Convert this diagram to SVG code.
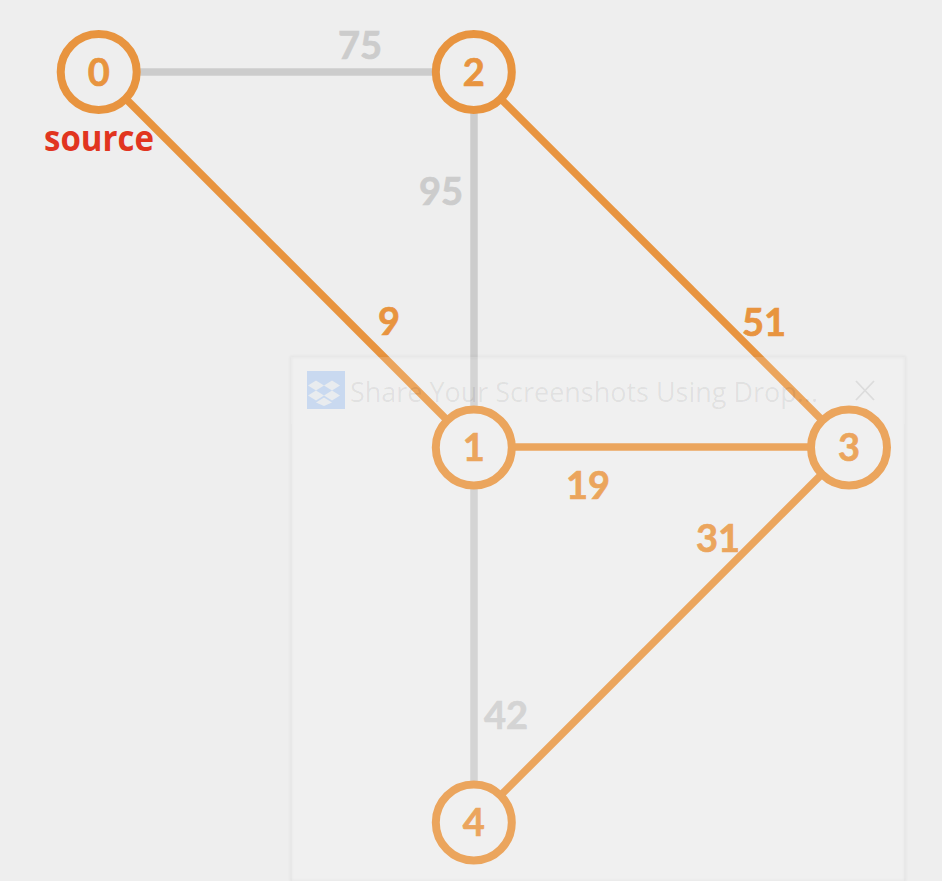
<svg xmlns="http://www.w3.org/2000/svg" width="942" height="881" viewBox="0 0 942 881">
<style>
.e{stroke-width:7.500;fill:none}
.g{stroke:#cccccc}
.o{stroke:#e8943f}
.n circle{fill:#eeeeee;stroke:#e8943f;stroke-width:8}
.n text,.l{font-family:"Lato","Liberation Sans",sans-serif;font-weight:700;font-size:38px;text-anchor:middle;stroke-width:.7px}
.n text{fill:#e8943f;stroke:#e8943f}
.lo{fill:#e8943f;stroke:#e8943f}
.lg{fill:#cccccc;stroke:#cccccc}
</style>
<defs>
<filter id="sh" x="-5%" y="-5%" width="110%" height="110%"><feGaussianBlur stdDeviation="1.500"/></filter>
</defs>
<rect width="942" height="881" fill="#eeeeee"/>
<g id="connectors">
<line class="e g" x1="99" y1="72" x2="474" y2="72"/>
<line class="e g" x1="474" y1="72" x2="474" y2="822"/>
<line class="e o" x1="99" y1="72" x2="474" y2="447"/>
<line class="e o" x1="474" y1="72" x2="849" y2="447"/>
<line class="e o" x1="474" y1="447" x2="849" y2="447"/>
<line class="e o" x1="849" y1="447" x2="474" y2="822"/>
</g>
<g id="node0" class="n"><circle cx="98.700" cy="72" r="38"/><text x="98.700" y="85.500">0</text></g>
<g id="node2" class="n"><circle cx="473.800" cy="72" r="38"/><text x="473.800" y="85.500">2</text></g>
<g id="node1" class="n"><circle cx="473.800" cy="447.500" r="38"/><text x="473.800" y="460.500">1</text></g>
<g id="node3" class="n"><circle cx="849" cy="447.500" r="38"/><text x="849" y="460.500">3</text></g>
<g id="node4" class="n"><circle cx="473.800" cy="822.500" r="38"/><text x="473.800" y="835.500">4</text></g>
<g id="labels">
<text class="l lg" x="360" y="59">75</text>
<text class="l lg" x="441" y="205">95</text>
<text class="l lo" x="389" y="335">9</text>
<text class="l lo" x="764" y="336">51</text>
<text class="l lo" x="588" y="499">19</text>
<text class="l lo" x="718" y="552">31</text>
<text class="l lg" x="506" y="729">42</text>
<text x="44" y="151" font-family="Open Sans, Liberation Sans, sans-serif" font-weight="700" font-size="35.500px" textLength="110" lengthAdjust="spacingAndGlyphs" fill="#e1351f">source</text>
</g>
<g id="window">
<path d="M291 357H905V881H291Z" fill="none" stroke="#000" stroke-width="2" opacity="0.05" filter="url(#sh)"/>
<rect x="291" y="357" width="614" height="67" fill="#ffffff" fill-opacity="0.16"/>
<rect x="292" y="424" width="612" height="457" fill="#ffffff" fill-opacity="0.16"/>
<rect x="307" y="371" width="38" height="38" fill="#c9d9f0"/>
<path d="M316 381l8 5-8 5-8-5zM332 381l8 5-8 5-8-5zM316 391l8 5-8 5-8-5zM332 391l8 5-8 5-8-5zM324 398l8 5-8 3.500-8-3.500z" transform="translate(0 -0.500)" fill="#e9ecef"/>
<text x="350" y="402" font-family="Open Sans, Liberation Sans, sans-serif" font-size="28px" fill="#000" fill-opacity="0.07" textLength="468" lengthAdjust="spacingAndGlyphs">Share Your Screenshots Using Drop...</text>
<path d="M856 381L874 400M874 381L856 400" stroke="#dcdcdc" stroke-width="1.800" fill="none"/>
</g>
</svg>
